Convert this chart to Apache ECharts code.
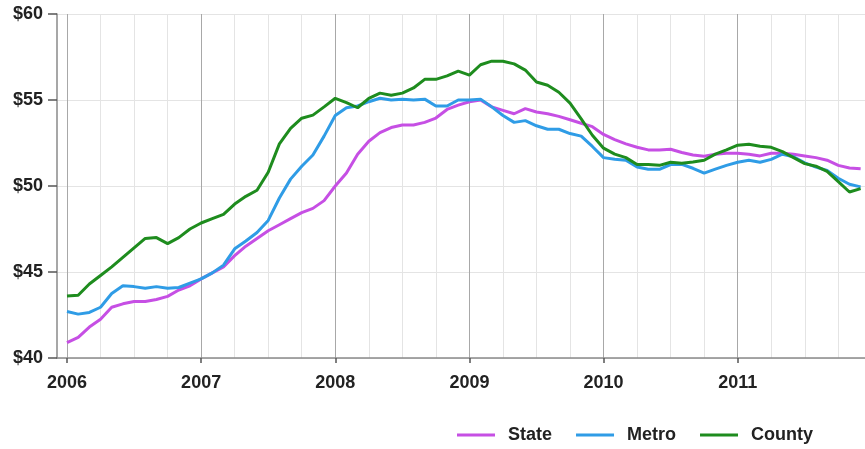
<!DOCTYPE html>
<html>
<head>
<meta charset="utf-8">
<script src="https://cdn.jsdelivr.net/npm/echarts@6/dist/echarts.min.js"></script>
<style>
html,body{margin:0;padding:0;background:#fff;}
#c{width:865px;height:449px;}
</style>
</head>
<body>
<div id="c"></div>
<script>
// Monthly values, Jan 2006 .. Dec 2011
const seriesNames = ['State', 'Metro', 'County'];
const yearLabels = ['2006', '2007', '2008', '2009', '2010', '2011'];
const yTicks = [40, 45, 50, 55, 60];

const state = [
  40.9, 41.2, 41.8, 42.25, 42.95, 43.15, 43.28, 43.28, 43.4, 43.58, 43.95, 44.2,
  44.6, 44.95, 45.3, 45.95, 46.5, 46.95, 47.4, 47.75, 48.1, 48.45, 48.7, 49.15,
  50.0, 50.75, 51.85, 52.6, 53.1, 53.4, 53.55, 53.55, 53.7, 53.95, 54.45, 54.7,
  54.9, 55.0, 54.6, 54.4, 54.2, 54.5, 54.3, 54.2, 54.05, 53.85, 53.65, 53.45,
  53.0, 52.7, 52.45, 52.25, 52.1, 52.1, 52.14, 51.95, 51.8, 51.73, 51.85, 51.9,
  51.9, 51.85, 51.75, 51.9, 51.9, 51.85, 51.75, 51.65, 51.5, 51.2, 51.05, 51.0
];
const metro = [
  42.7, 42.55, 42.65, 42.95, 43.75, 44.2, 44.15, 44.05, 44.15, 44.05, 44.1, 44.35,
  44.6, 44.95, 45.4, 46.35, 46.8, 47.3, 48.0, 49.3, 50.4, 51.15, 51.8, 52.9,
  54.1, 54.55, 54.65, 54.9, 55.1, 55.0, 55.05, 55.0, 55.05, 54.65, 54.65, 55.0,
  55.0, 55.05, 54.6, 54.1, 53.7, 53.8, 53.5, 53.3, 53.3, 53.05, 52.9, 52.3,
  51.65, 51.55, 51.5, 51.1, 50.97, 50.97, 51.25, 51.26, 51.03, 50.75, 50.98, 51.2,
  51.38, 51.5, 51.38, 51.55, 51.85, 51.7, 51.35, 51.1, 50.9, 50.45, 50.1, 49.95
];
const county = [
  43.6, 43.65, 44.3, 44.8, 45.3, 45.85, 46.4, 46.95, 47.0, 46.65, 47.0, 47.5,
  47.85, 48.1, 48.35, 48.95, 49.4, 49.75, 50.8, 52.45, 53.35, 53.94, 54.12, 54.6,
  55.1, 54.85, 54.55, 55.1, 55.4, 55.28, 55.4, 55.7, 56.2, 56.2, 56.4, 56.68,
  56.45, 57.05, 57.26, 57.25, 57.1, 56.74, 56.05, 55.86, 55.45, 54.82, 53.9, 52.95,
  52.2, 51.85, 51.65, 51.25, 51.25, 51.2, 51.38, 51.32, 51.4, 51.5, 51.85, 52.1,
  52.37, 52.43, 52.31, 52.25, 52.0, 51.65, 51.3, 51.15, 50.85, 50.25, 49.65, 49.85
];
const colors = ['#c64fe4', '#2f9ce6', '#1e8c1e'];

const toPts = arr => arr.map((v, i) => [i, v]);
const yearTickValues = yearLabels.map((_, k) => k * 12);
const font = '"Liberation Sans", Arial, sans-serif';
const xMax = 71.39;

const chart = echarts.init(document.getElementById('c'), null, {renderer: 'canvas'});
chart.setOption({
  animation: false,
  backgroundColor: '#fff',
  grid: [
    {left: 57, right: 0, top: 14, bottom: 91},
    {left: 67, right: 0, top: 14, bottom: 91},
    {left: 67, right: 0, top: 14, bottom: 91}
  ],
  xAxis: [
    {
      gridIndex: 0, type: 'value', min: 0, max: 1,
      axisLine: {show: true, lineStyle: {color: '#8a8a8a', width: 1.5}},
      axisTick: {show: false}, axisLabel: {show: false}, splitLine: {show: false}
    },
    {
      gridIndex: 1, type: 'value', min: 0, max: xMax, interval: 3,
      axisLine: {show: false}, axisTick: {show: false}, axisLabel: {show: false},
      splitLine: {show: true, showMaxLine: false, lineStyle: {color: '#e4e4e4', width: 1}}
    },
    {
      gridIndex: 2, type: 'value', min: 0, max: xMax, interval: 12,
      axisLine: {show: false},
      axisTick: {show: true, customValues: yearTickValues, length: 5, lineStyle: {color: '#555', width: 1.5}},
      axisLabel: {
        show: true, customValues: yearTickValues, margin: 16,
        formatter: v => yearLabels[Math.round(v / 12)] || '',
        fontFamily: font, fontWeight: 'bold', fontSize: 18, color: '#222'
      },
      splitLine: {show: true, lineStyle: {color: '#a8a8a8', width: 1}}
    }
  ],
  yAxis: [
    {
      gridIndex: 0, type: 'value', min: 40, max: 60, interval: 5,
      axisLine: {show: true, lineStyle: {color: '#8a8a8a', width: 1.5}},
      axisTick: {show: true, length: 9, lineStyle: {color: '#555', width: 1.5}},
      axisLabel: {
        margin: 14, formatter: v => '$' + v,
        fontFamily: font, fontWeight: 'bold', fontSize: 18, color: '#222'
      },
      splitLine: {show: true, lineStyle: {color: '#e4e4e4', width: 1}}
    },
    {gridIndex: 1, type: 'value', min: 40, max: 60, interval: 5, show: false, splitLine: {show: false}},
    {gridIndex: 2, type: 'value', min: 40, max: 60, interval: 5, show: false, splitLine: {show: false}}
  ],
  legend: {
    data: seriesNames,
    left: 457, top: 426, padding: 0,
    icon: 'rect', itemWidth: 38, itemHeight: 3, itemGap: 24,
    textStyle: {fontFamily: font, fontWeight: 'bold', fontSize: 18, color: '#222', padding: [0, 0, 0, 8]}
  },
  series: [state, metro, county].map((arr, k) => ({
    name: seriesNames[k], type: 'line', xAxisIndex: 1, yAxisIndex: 1,
    data: toPts(arr), showSymbol: false, symbol: 'none',
    lineStyle: {color: colors[k], width: 3}, itemStyle: {color: colors[k]},
    z: 3 + k
  }))
});
</script>
</body>
</html>
